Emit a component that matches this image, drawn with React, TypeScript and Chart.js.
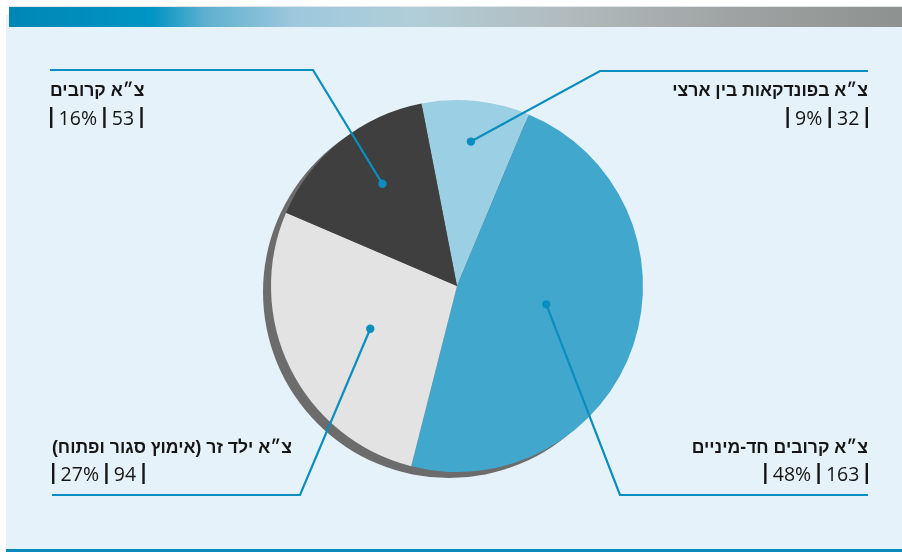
import React, { useEffect, useRef } from "react";
import { Chart, registerables } from "chart.js";

Chart.register(...registerables);

const categories = [
  "צ״א בפונדקאות בין ארצי",
  "צ״א קרובים חד-מיניים",
  "צ״א ילד זר (אימוץ סגור ופתוח)",
  "צ״א קרובים",
];
const counts = [32, 163, 94, 53];
const percentLabels = ["9%", "48%", "27%", "16%"];
const sliceColors = ["#9bcfe3", "#42a7cc", "#e2e3e2", "#3e3f3e"];

// annotation layout (positions/styles only)
const labelLayout = [
  { angleFrac: 0.49, radiusFrac: 0.78, bendX: 600, lineY: 71, endX: 868, align: "right", titleY: 96, numY: 125 },
  { angleFrac: 0.46, radiusFrac: 0.49, bendX: 620, lineY: 495, endX: 868, align: "right", titleY: 453, numY: 481 },
  { angleFrac: 0.5, radiusFrac: 0.52, bendX: 300, lineY: 495, endX: 52, align: "left", titleY: 453, numY: 481 },
  { angleFrac: 0.55, radiusFrac: 0.68, bendX: 313, lineY: 70, endX: 50, align: "left", titleY: 96, numY: 125 },
];

const LINE_COLOR = "#0a8dbf";
const TEXT_COLOR = "#161616";

const backgroundPlugin = {
  id: "bgPanel",
  beforeDraw(chart: any) {
    const ctx = chart.ctx;
    ctx.save();
    ctx.fillStyle = "#ffffff";
    ctx.fillRect(0, 0, 902, 552);
    ctx.fillStyle = "#e5f2f9";
    ctx.fillRect(6, 15, 896, 534);
    const g = ctx.createLinearGradient(9, 0, 902, 0);
    g.addColorStop(0, "#0086b6");
    g.addColorStop(0.16, "#0095c4");
    g.addColorStop(0.22, "#5eb0cf");
    g.addColorStop(0.32, "#9dc8dc");
    g.addColorStop(0.45, "#b1ced8");
    g.addColorStop(0.62, "#b2bbbe");
    g.addColorStop(0.8, "#a0a4a4");
    g.addColorStop(1, "#8d918f");
    ctx.fillStyle = g;
    ctx.fillRect(9, 7, 893, 20);
    ctx.fillStyle = "#e0e4e6";
    ctx.fillRect(9, 6, 893, 1);
    ctx.fillStyle = "#0a88bb";
    ctx.fillRect(6, 549, 896, 3);
    ctx.restore();
  },
  beforeDatasetsDraw(chart: any) {
    const arc = chart.getDatasetMeta(0).data[0];
    if (!arc) return;
    const { x, y, outerRadius } = arc.getProps(["x", "y", "outerRadius"], true);
    const ctx = chart.ctx;
    ctx.save();
    ctx.fillStyle = "#6b6c6b";
    ctx.beginPath();
    ctx.arc(x - 8, y + 6, outerRadius, 0, Math.PI * 2);
    ctx.fill();
    ctx.restore();
  },
  afterDatasetsDraw(chart: any) {
    const ctx = chart.ctx;
    const meta = chart.getDatasetMeta(0);
    meta.data.forEach((arc: any, i: number) => {
      const L = labelLayout[i];
      const p = arc.getProps(["x", "y", "startAngle", "endAngle", "outerRadius"], true);
      const a = p.startAngle + L.angleFrac * (p.endAngle - p.startAngle);
      const r = p.outerRadius * L.radiusFrac;
      const dx = p.x + r * Math.cos(a);
      const dy = p.y + r * Math.sin(a);
      ctx.save();
      ctx.strokeStyle = LINE_COLOR;
      ctx.lineWidth = 2.2;
      ctx.beginPath();
      ctx.moveTo(dx, dy);
      ctx.lineTo(L.bendX, L.lineY);
      ctx.lineTo(L.endX, L.lineY);
      ctx.stroke();
      ctx.fillStyle = LINE_COLOR;
      ctx.beginPath();
      ctx.arc(dx, dy, 4.2, 0, Math.PI * 2);
      ctx.fill();

      // title
      ctx.fillStyle = TEXT_COLOR;
      ctx.font = "bold 17.6px 'Liberation Sans', 'DejaVu Sans', sans-serif";
      (ctx as any).direction = "rtl";
      ctx.textAlign = L.align as CanvasTextAlign;
      ctx.textBaseline = "alphabetic";
      ctx.fillText(categories[i], L.endX, L.titleY);

      // numbers "| pct | count |"
      (ctx as any).direction = "ltr";
      ctx.font = "19.5px 'Open Sans', sans-serif";
      ctx.textAlign = "left";
      const t1 = percentLabels[i];
      const t2 = String(counts[i]);
      const w1 = ctx.measureText(t1).width;
      const w2 = ctx.measureText(t2).width;
      const barW = 2.4;
      const gap = 6.2;
      const total = barW * 3 + gap * 4 + w1 + w2;
      let x0 = L.align === "right" ? L.endX - total : L.endX;
      const by = L.numY;
      const bar = (bx: number) => ctx.fillRect(bx, by - 18, barW, 21);
      bar(x0);
      x0 += barW + gap;
      ctx.fillText(t1, x0, by);
      x0 += w1 + gap;
      bar(x0);
      x0 += barW + gap;
      ctx.fillText(t2, x0, by);
      x0 += w2 + gap;
      bar(x0);
      ctx.restore();
    });
  },
};

export default function App() {
  const ref = useRef<HTMLCanvasElement>(null);
  useEffect(() => {
    if (!ref.current) return;
    const chart = new Chart(ref.current, {
      type: "pie",
      data: {
        labels: categories,
        datasets: [
          {
            data: counts,
            backgroundColor: sliceColors,
            borderWidth: 0,
          },
        ],
      },
      options: {
        responsive: false,
        animation: false,
        rotation: -11,
        layout: { padding: { left: 271, right: 259, top: 100, bottom: 80 } },
        plugins: {
          legend: { display: false },
          tooltip: { enabled: false },
        },
        events: [],
      },
      plugins: [backgroundPlugin],
    });
    return () => chart.destroy();
  }, []);
  return (
    <div style={{ position: "fixed", left: 0, top: 0, width: 902, height: 552 }}>
      <canvas ref={ref} width={902} height={552} style={{ width: 902, height: 552, display: "block" }} />
    </div>
  );
}
